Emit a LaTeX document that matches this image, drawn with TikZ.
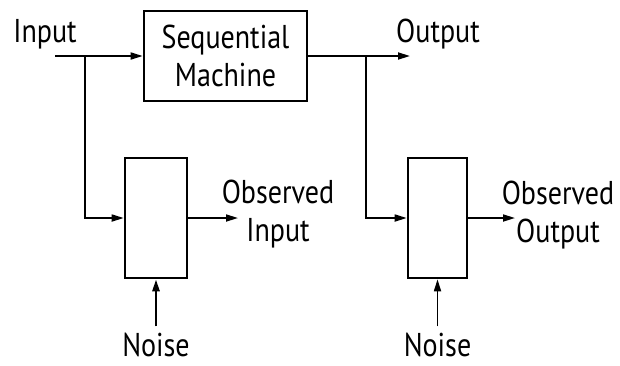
\documentclass[tikz,border=0pt]{standalone}
\usepackage{fontspec}
\setmainfont{PT Sans}[FakeStretch=0.85]
\usetikzlibrary{arrows.meta, positioning}

\begin{document}
\begin{tikzpicture}[
x=1pt, y=-1pt,
block/.style={
rectangle,
draw,
line width=2.6pt,
inner sep=0pt,
align=center
},
txt/.style={
font=\fontsize{33}{38}\selectfont,
inner sep=0pt
},
twolines/.style={txt, align=center},
line/.style={line width=1.7pt},
arrow/.style={line, -{Triangle[length=12pt,width=7pt]}}
]
\useasboundingbox (0,0) rectangle (620,365);

% Machine
\node[block, twolines, line width=2.6pt, minimum width=163pt, minimum height=90pt] (machine)
at (225.5,56) {Sequential\\Machine};

% Noise boxes
\node[block, minimum width=62pt, minimum height=120pt] (noiseA) at (156,218) {};
\node[block, minimum width=59pt, minimum height=120pt] (noiseB) at (437.5,218) {};

% Labels
\node[txt, anchor=base] (inTxt) at (45,42) {Input};
\node[txt, anchor=base] (outTxt) at (438,42) {Output};
\node[twolines, anchor=base] (obsInTxt) at (278,241) {Observed\\Input};
\node[twolines, anchor=base] (obsOutTxt) at (558,242) {Observed\\Output};
\node[txt, anchor=base] (nzTxtA) at (156,356) {Noise};
\node[txt, anchor=base] (nzTxtB) at (437.5,356) {Noise};

% Free ends
\coordinate (in) at (55,56);
\coordinate (inSplit) at (85,56);
\coordinate (out) at (410,56);
\coordinate (outSplit) at (366,56);
\coordinate (obsIn) at (238,218);
\coordinate (obsOut) at (515,218);

% Arrows
\draw[arrow] (in) -- (machine);
\draw[arrow] (inSplit) |- (noiseA);
\draw[arrow] (machine) -- (out);
\draw[arrow] (outSplit) |- (noiseB);
\draw[arrow] (noiseA) -- (obsIn);
\draw[arrow] (noiseB) -- (obsOut);
\draw[arrow, line width=2.6pt, shorten <=6pt] (nzTxtA) -- (noiseA);
\draw[arrow, shorten <=6pt] (nzTxtB) -- (noiseB);

\end{tikzpicture}
\end{document}
